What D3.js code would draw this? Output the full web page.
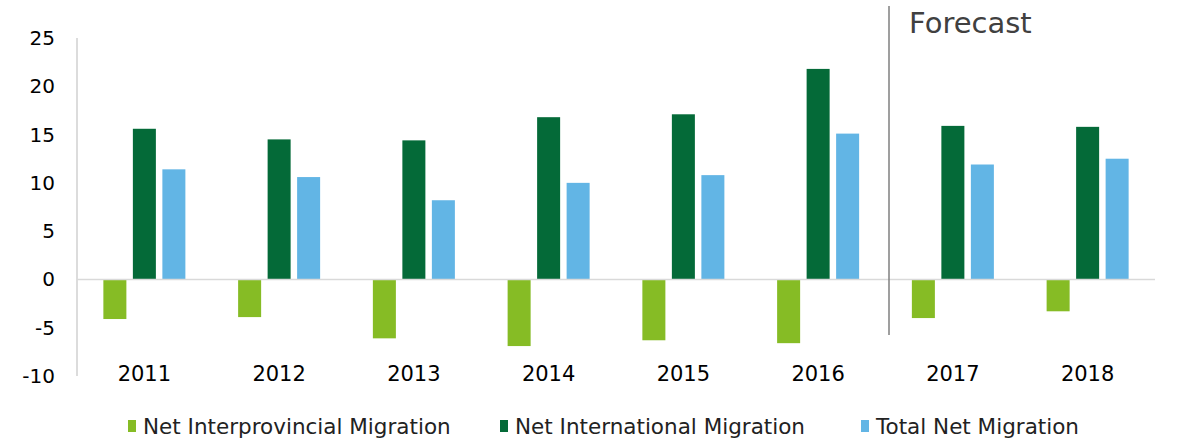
<!DOCTYPE html>
<html lang="en">
<head>
    <meta charset="UTF-8">
    <title>Net Migration</title>
    <script src="https://d3js.org/d3.v7.min.js"></script>
    <style>
        body { margin: 0; background: #fff; }
        text { font-family: "DejaVu Sans", Verdana, sans-serif; fill: #000; }
    </style>
</head>
<body>
    <svg id="chart" width="1178" height="439"></svg>
    <script>
        const years = ["2011", "2012", "2013", "2014", "2015", "2016", "2017", "2018"];
        const seriesNames = ["Net Interprovincial Migration", "Net International Migration", "Total Net Migration"];
        const interprovincial = [-4.1, -3.9, -6.1, -6.9, -6.3, -6.6, -4.0, -3.3];
        const international = [15.6, 14.5, 14.4, 16.8, 17.1, 21.8, 15.9, 15.8];
        const totalNet = [11.4, 10.6, 8.2, 10.0, 10.8, 15.1, 11.9, 12.5];
        const yTicks = [-10, -5, 0, 5, 10, 15, 20, 25];
        const colors = ["#86bc25", "#046a38", "#62b5e5"];

        const svg = d3.select("#chart");
        const plotLeft = 77, plotRight = 1155, plotTop = 38, plotBottom = 376;

        const x = d3.scaleBand().domain(years).range([plotLeft, plotRight]);
        const xInner = d3.scaleBand().domain(seriesNames)
            .range([0, x.bandwidth()])
            .paddingInner(0.22)
            .paddingOuter(0.894);
        const y = d3.scaleLinear().domain([-10, 25]).range([plotBottom, plotTop]);

        const rows = years.map((yr, i) => ({
            year: yr,
            values: [interprovincial[i], international[i], totalNet[i]]
        }));

        // y axis line and labels
        svg.append("line")
            .attr("x1", plotLeft).attr("x2", plotLeft)
            .attr("y1", y(25)).attr("y2", y(-10))
            .attr("stroke", "#d0d0d0").attr("stroke-width", 1.5);

        svg.selectAll(".ytick")
            .data(yTicks)
            .join("text")
            .attr("class", "ytick")
            .attr("x", 55)
            .attr("y", d => y(d))
            .attr("text-anchor", "end")
            .attr("dominant-baseline", "central")
            .attr("font-size", 20)
            .text(d => d);

        // bars
        const groups = svg.selectAll(".grp")
            .data(rows)
            .join("g")
            .attr("class", "grp")
            .attr("transform", d => `translate(${x(d.year)},0)`);

        groups.selectAll("rect")
            .data(d => d.values.map((v, j) => ({ name: seriesNames[j], value: v, j })))
            .join("rect")
            .attr("x", d => xInner(d.name))
            .attr("width", xInner.bandwidth())
            .attr("y", d => y(Math.max(0, d.value)))
            .attr("height", d => Math.abs(y(d.value) - y(0)))
            .attr("fill", d => colors[d.j]);

        // zero line
        svg.append("line")
            .attr("x1", plotLeft).attr("x2", plotRight)
            .attr("y1", y(0)).attr("y2", y(0))
            .attr("stroke", "#d9d9d9").attr("stroke-width", 1.5);

        // year labels
        svg.selectAll(".xlab")
            .data(years)
            .join("text")
            .attr("class", "xlab")
            .attr("x", d => x(d) + x.bandwidth() / 2)
            .attr("y", 381)
            .attr("text-anchor", "middle")
            .attr("font-size", 21)
            .text(d => d);

        // forecast divider
        const fx = x("2017") + 3.5;
        svg.append("line")
            .attr("x1", fx).attr("x2", fx)
            .attr("y1", 6).attr("y2", 335)
            .attr("stroke", "#7f7f7f").attr("stroke-width", 1.5);

        svg.append("text")
            .attr("x", fx + 20)
            .attr("y", 33)
            .attr("font-size", 29)
            .style("fill", "#404040")
            .text("Forecast");

        // legend
        const legendX = [128, 500, 861];
        const legend = svg.selectAll(".leg")
            .data(seriesNames)
            .join("g")
            .attr("class", "leg")
            .attr("transform", (d, i) => `translate(${legendX[i]},420)`);

        legend.append("rect")
            .attr("width", 8).attr("height", 12)
            .attr("fill", (d, i) => colors[i]);

        legend.append("text")
            .attr("x", 15)
            .attr("y", 6)
            .attr("dominant-baseline", "central")
            .attr("font-size", 21.5)
            .style("fill", "#222")
            .text(d => d);
    </script>
</body>
</html>
